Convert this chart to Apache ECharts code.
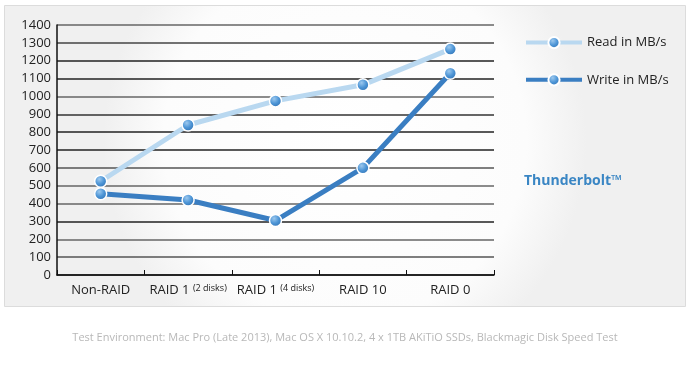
<!DOCTYPE html>
<html><head><meta charset="utf-8">
<script src="https://cdn.jsdelivr.net/npm/echarts@6/dist/echarts.min.js"></script>
<style>html,body{margin:0;padding:0;background:#fff}#c{width:690px;height:365px}</style>
</head><body><div id="c"></div>
<script>
var categories = ['Non-RAID', 'RAID 1|(2 disks)', 'RAID 1|(4 disks)', 'RAID 10', 'RAID 0'];
var readValues = [525, 840, 975, 1065, 1265];
var writeValues = [455, 420, 305, 600, 1130];
var seriesNames = ['Read in MB/s', 'Write in MB/s'];
var footnote = 'Test Environment: Mac Pro (Late 2013), Mac OS X 10.10.2, 4 x 1TB AKiTiO SSDs, Blackmagic Disk Speed Test';
var brandText = 'Thunderbolt™';

var FONT = '"Open Sans", "Noto Sans", sans-serif';
var ball = {type:'radial', x:0.4, y:0.35, r:0.7, colorStops:[{offset:0,color:'#9cc8ee'},{offset:0.5,color:'#4d95d6'},{offset:1,color:'#2f6fb0'}]};
var chart = echarts.init(document.getElementById('c'));
chart.setOption({
  animation:false,
  backgroundColor:'#fff',
  graphic:[
    {type:'rect', z:-10, shape:{x:4.5,y:5.5,width:681,height:301}, style:{
      fill:{type:'radial',x:0.5,y:0.45,r:0.8,colorStops:[{offset:0,color:'#ffffff'},{offset:0.75,color:'#fcfcfc'},{offset:1,color:'#f0f0f0'}]},
      stroke:'#dcdcdc', lineWidth:1}},
    {type:'text', left:524, top:174, style:{text:brandText, fill:'#3a86c4', font:'bold 14px '+FONT}},
    {type:'text', left:'center', top:332, style:{text:footnote, fill:'#b8b8b8', font:'11px '+FONT}}
  ],
  grid:{left:57, top:25, right:196, bottom:90},
  legend:{
    orient:'vertical', left:519, top:31, itemGap:24, itemWidth:56, itemHeight:14,
    data:seriesNames,
    lineStyle:{width:4},
    textStyle:{fontFamily:FONT, fontSize:13, color:'#222', padding:[0,0,0,0]}
  },
  xAxis:{
    type:'category', data:categories, boundaryGap:true,
    axisLine:{lineStyle:{color:'#111', width:1.5}},
    axisTick:{show:true, inside:true, length:5, lineStyle:{color:'#111'}},
    axisLabel:{margin:9, interval:0, fontFamily:FONT, fontSize:13, color:'#222',
      formatter:function(v){var p=v.split('|'); return p.length>1 ? p[0]+' {s|'+p[1]+'}' : p[0];},
      rich:{s:{fontSize:9, color:'#222', fontFamily:FONT, verticalAlign:'top', padding:[0,0,4,0]}}}
  },
  yAxis:{
    type:'value', min:0, max:1400, interval:100,
    axisLine:{show:true, lineStyle:{color:'#111', width:1.5}},
    axisTick:{show:false},
    axisLabel:{margin:6, fontFamily:FONT, fontSize:13, color:'#222', formatter:function(v){return String(v);}},
    splitLine:{lineStyle:{color:['#333','#555','#666','#222','#666','#666','#555','#222','#222','#333','#666','#222','#222','#444','#666'], width:1.5}}
  },
  series:[
    {name:seriesNames[0], type:'line', data:readValues, symbol:'circle', symbolSize:12,
      lineStyle:{color:'#b9d8f0', width:5}, itemStyle:{color:ball, borderColor:'#fff', borderWidth:1.5}, z:2},
    {name:seriesNames[1], type:'line', data:writeValues, symbol:'circle', symbolSize:12,
      lineStyle:{color:'#3a7ec2', width:5}, itemStyle:{color:ball, borderColor:'#fff', borderWidth:1.5}, z:3}
  ]
});
</script></body></html>
